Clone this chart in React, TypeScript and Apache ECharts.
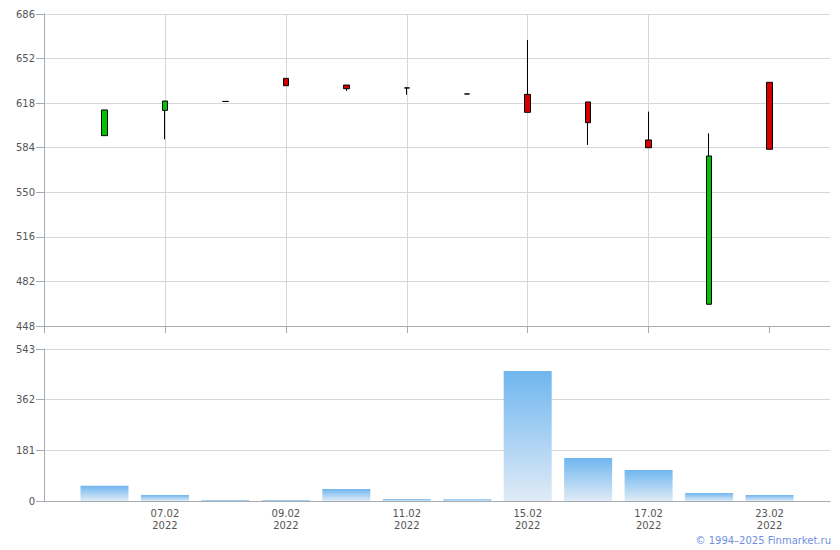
import React, { useEffect, useRef } from "react";
import * as echarts from "echarts";

// Trading days (x position = index + 1)
const dates = ["04.02", "07.02", "08.02", "09.02", "10.02", "11.02", "14.02", "15.02", "16.02", "17.02", "22.02", "23.02"];
const year = "2022";
const opens = [593.2, 612.5, 619.3, 636.9, 631.8, 629.6, 625.0, 624.7, 618.9, 589.9, 464.6, 633.9];
const closes = [612.8, 619.6, 619.3, 631.3, 629.0, 629.6, 625.0, 611.0, 603.1, 584.0, 577.7, 582.8];
const lows = [593.2, 590.4, 619.3, 631.3, 627.3, 624.4, 625.0, 611.0, 586.1, 584.0, 464.6, 582.8];
const highs = [612.8, 619.6, 619.3, 636.9, 631.8, 629.6, 625.0, 666.2, 618.9, 611.5, 595.0, 633.9];
const volumes = [54.7, 21.4, 3.5, 3.5, 42.9, 7, 6, 464.4, 153.6, 110.7, 28.6, 21.4];

// Axis tick labels
const priceMin = 448;
const priceMax = 686;
const priceStep = 34;
const volMax = 543;
const volStep = 181;
const xTickValues = [0, 2, 4, 6, 8, 10, 12];

const AXIS_COLOR = "#a6aab1";
const GRID_COLOR = "#d3d8dd";
const LABEL_COLOR = "#555";
const FONT = "DejaVu Sans";

export default function App() {
  const ref = useRef<HTMLDivElement>(null);

  useEffect(() => {
    if (!ref.current) return;
    const chart = echarts.init(ref.current, null, { renderer: "svg" });

    const candleData = dates.map((_, i) => [
      i + 1,
      opens[i] - priceMin,
      closes[i] - priceMin,
      lows[i] - priceMin,
      highs[i] - priceMin,
    ]);
    const volData = dates.map((_, i) => [i + 1, volumes[i]]);

    const xLabel = (v: number) => {
      const idx = Math.round(v) - 1;
      if (idx < 0 || idx >= dates.length) return "";
      return dates[idx] + "\n" + year;
    };

    const baseX = (gridIndex: number, showLabel: boolean, tickValues: number[]) => ({
      type: "value",
      gridIndex,
      min: 0,
      max: dates.length + 1,
      interval: 2,
      axisLine: { show: true, onZero: false, lineStyle: { color: AXIS_COLOR, width: 1 } },
      axisTick: { show: true, length: 7, customValues: tickValues, lineStyle: { color: AXIS_COLOR } },
      axisLabel: {
        show: showLabel,
        formatter: xLabel,
        color: LABEL_COLOR,
        fontFamily: FONT,
        fontSize: 10,
        lineHeight: 12,
        margin: 6,
        showMinLabel: false,
        showMaxLabel: false,
      },
      splitLine: { show: true, showMinLine: false, showMaxLine: false, lineStyle: { color: GRID_COLOR, width: 1 } },
    });

    chart.setOption({
      animation: false,
      backgroundColor: "#fff",
      grid: [
        { left: 44, right: 10, top: 14, height: 312 },
        { left: 44, right: 10, top: 349, height: 152 },
      ],
      xAxis: [baseX(0, false, xTickValues), baseX(1, true, [0])],
      yAxis: [
        {
          type: "value",
          gridIndex: 0,
          min: 0,
          max: priceMax - priceMin,
          interval: priceStep,
          axisLine: { show: true, lineStyle: { color: AXIS_COLOR } },
          axisTick: { show: true, length: 8, lineStyle: { color: AXIS_COLOR } },
          axisLabel: {
            formatter: (v: number) => String(v + priceMin),
            color: LABEL_COLOR,
            fontFamily: FONT,
            fontSize: 10,
            margin: 9,
          },
          splitLine: { show: true, lineStyle: { color: GRID_COLOR } },
        },
        {
          type: "value",
          gridIndex: 1,
          min: 0,
          max: volMax,
          interval: volStep,
          axisLine: { show: true, lineStyle: { color: AXIS_COLOR } },
          axisTick: { show: true, length: 8, lineStyle: { color: AXIS_COLOR } },
          axisLabel: { color: LABEL_COLOR, fontFamily: FONT, fontSize: 10, margin: 9 },
          splitLine: { show: true, lineStyle: { color: GRID_COLOR } },
        },
      ],
      series: [
        {
          type: "candlestick",
          xAxisIndex: 0,
          yAxisIndex: 0,
          barWidth: 6,
          encode: { x: 0, y: [1, 2, 3, 4] },
          data: candleData,
          itemStyle: {
            color: "#00c400",
            color0: "#d40000",
            borderColor: "#000",
            borderColor0: "#000",
            borderWidth: 1,
          },
        },
        {
          type: "bar",
          xAxisIndex: 1,
          yAxisIndex: 1,
          barWidth: 48,
          data: volData,
          itemStyle: {
            color: new echarts.graphic.LinearGradient(0, 0, 0, 1, [
              { offset: 0, color: "#6fb6ef" },
              { offset: 1, color: "#e0ebf6" },
            ]),
          },
        },
      ],
      graphic: [
        {
          type: "text",
          right: 9,
          top: 535,
          style: {
            text: "© 1994–2025 Finmarket.ru",
            fill: "#6f8fe0",
            font: `10px '${FONT}'`,
          },
        },
      ],
    });

    return () => chart.dispose();
  }, []);

  return (
    <div
      ref={ref}
      style={{ position: "fixed", left: 0, top: 0, width: 840, height: 550 }}
    />
  );
}
